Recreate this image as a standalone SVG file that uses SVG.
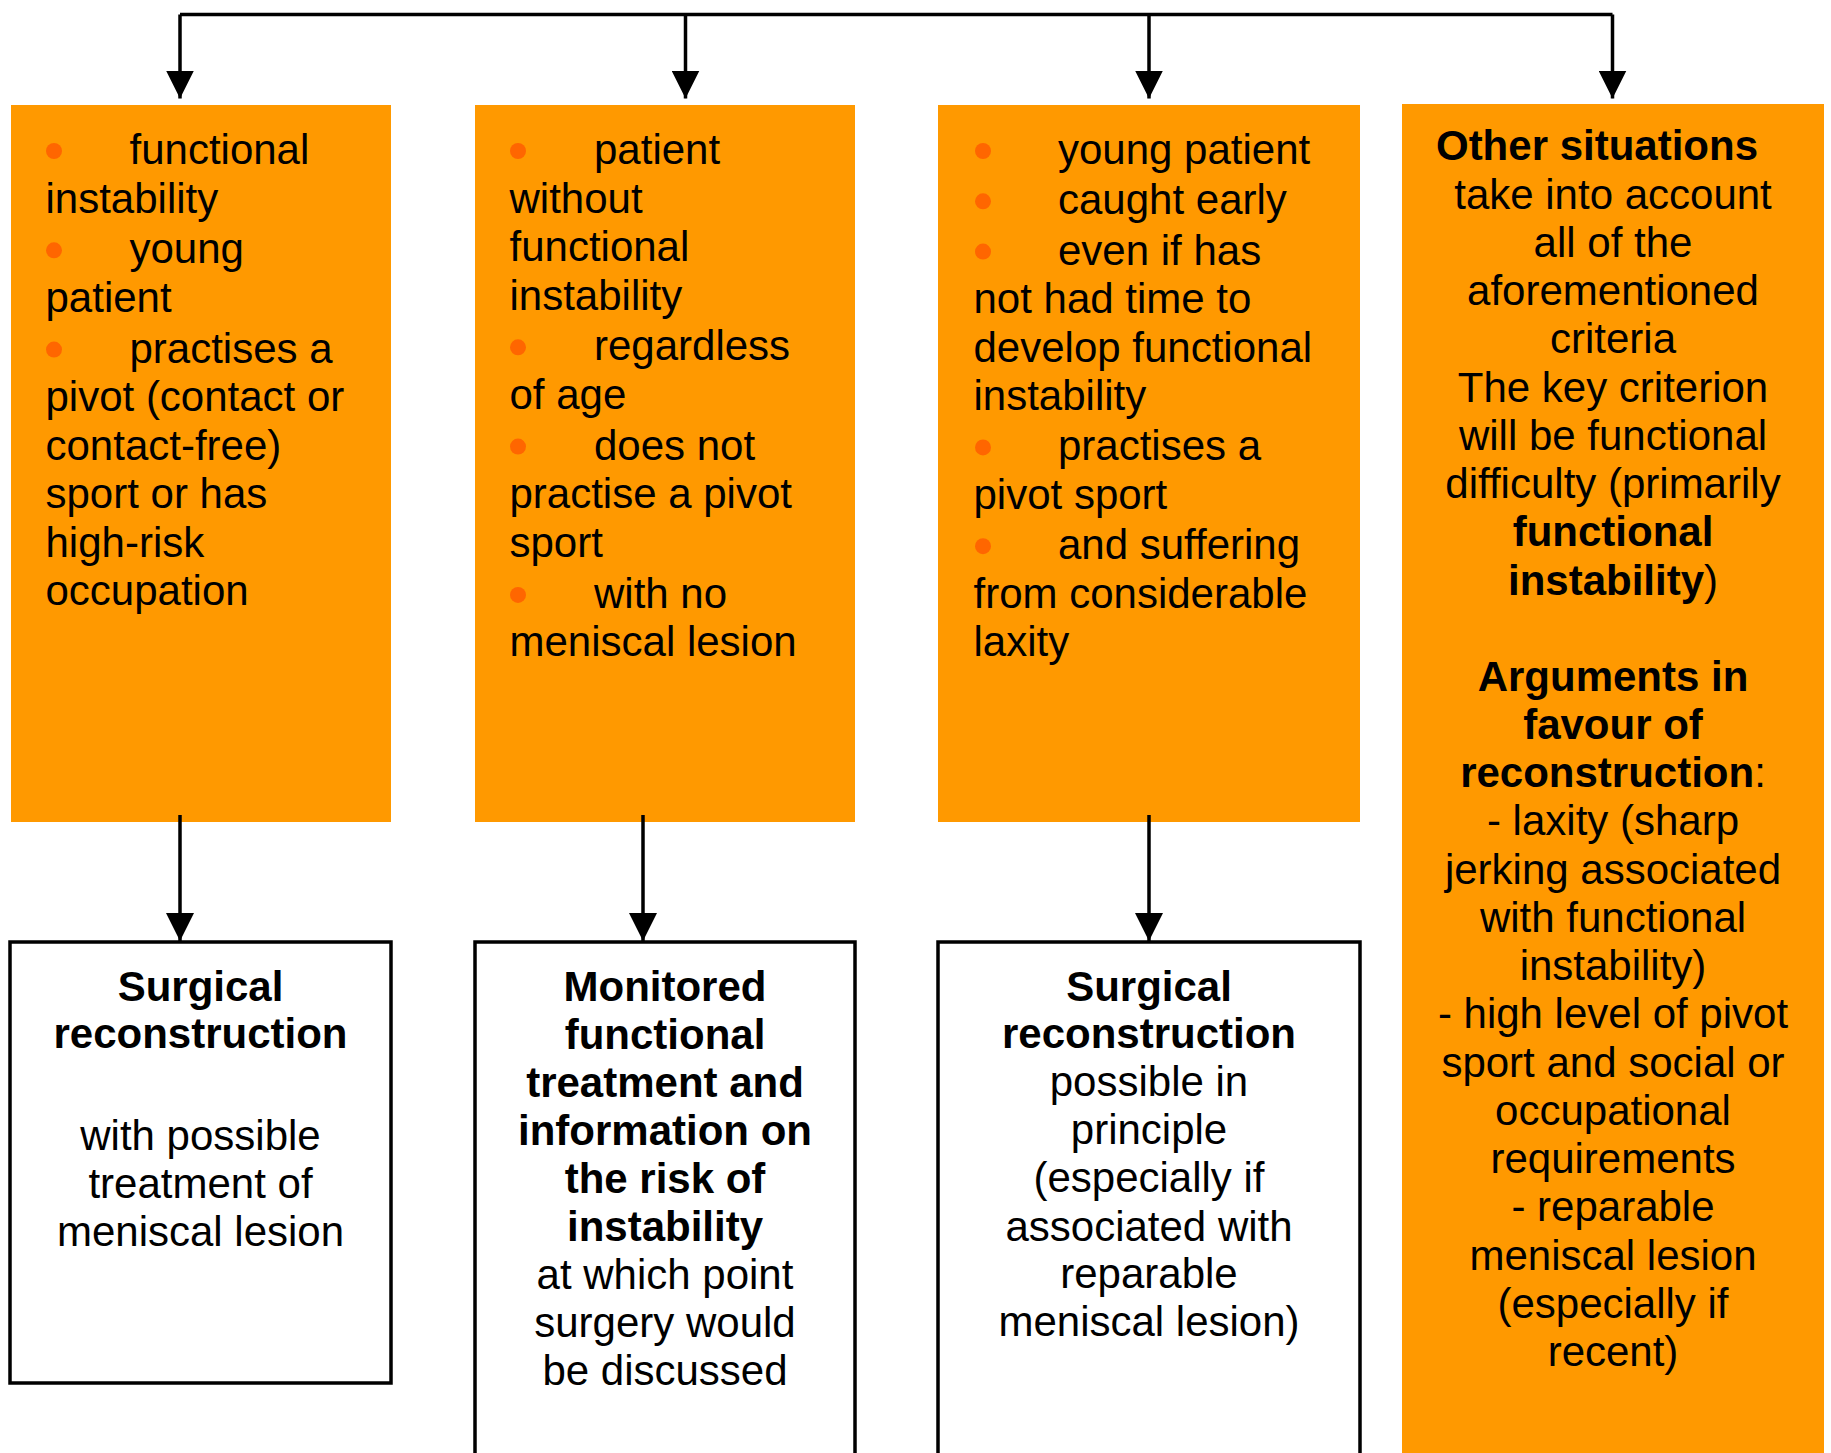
<svg xmlns="http://www.w3.org/2000/svg" width="1831" height="1453" viewBox="0 0 1831 1453">
<style>
  text { font-family: "Liberation Sans", Arial, sans-serif; font-size: 42px; fill: #000; }
  .c { text-anchor: middle; }
  .b { font-weight: bold; }
  .org { fill: #FF9900; stroke: none; }
  .wht { fill: #FFFFFF; stroke: #000; stroke-width: 3.5; }
  .dot { fill: #FF6600; }
  .con { fill: none; stroke: #000; stroke-width: 3.5; }
  .arr { marker-end: url(#ah); }
</style>
<defs>
  <marker id="ah" markerUnits="userSpaceOnUse" markerWidth="28" markerHeight="28" viewBox="0 0 27 27" refX="27" refY="13.5" orient="auto">
    <path d="M0,0 L27,13.5 L0,27 z" fill="#000"/>
  </marker>
</defs>

<g id="node-criteria-1">
  <rect class="org" x="11" y="105" width="380" height="717"/>
  <circle class="dot" cx="54" cy="151" r="8"/>
  <text x="129.5" y="164">functional</text>
  <text x="45.5" y="212.5">instability</text>
  <circle class="dot" cx="54" cy="250.3" r="8"/>
  <text x="129.5" y="263.3">young</text>
  <text x="45.5" y="311.8">patient</text>
  <circle class="dot" cx="54" cy="349.6" r="8"/>
  <text x="129.5" y="362.6">practises a</text>
  <text x="45.5" y="411.1">pivot (contact or</text>
  <text x="45.5" y="459.6">contact-free)</text>
  <text x="45.5" y="508.1">sport or has</text>
  <text x="45.5" y="556.6">high-risk</text>
  <text x="45.5" y="605.1">occupation</text>
</g>

<g id="node-criteria-2">
  <rect class="org" x="475" y="105" width="380" height="717"/>
  <circle class="dot" cx="518" cy="151" r="8"/>
  <text x="594" y="164">patient</text>
  <text x="509.5" y="212.5">without</text>
  <text x="509.5" y="261">functional</text>
  <text x="509.5" y="309.5">instability</text>
  <circle class="dot" cx="518" cy="347.3" r="8"/>
  <text x="594" y="360.3">regardless</text>
  <text x="509.5" y="408.8">of age</text>
  <circle class="dot" cx="518" cy="446.6" r="8"/>
  <text x="594" y="459.6">does not</text>
  <text x="509.5" y="508.1">practise a pivot</text>
  <text x="509.5" y="556.6">sport</text>
  <circle class="dot" cx="518" cy="594.9" r="8"/>
  <text x="594" y="607.9">with no</text>
  <text x="509.5" y="656.4">meniscal lesion</text>
</g>

<g id="node-criteria-3">
  <rect class="org" x="938" y="105" width="422" height="717"/>
  <circle class="dot" cx="983" cy="151" r="8"/>
  <text x="1058" y="164">young patient</text>
  <circle class="dot" cx="983" cy="201.3" r="8"/>
  <text x="1058" y="214.3">caught early</text>
  <circle class="dot" cx="983" cy="251.6" r="8"/>
  <text x="1058" y="264.6">even if has</text>
  <text x="973.5" y="313.1">not had time to</text>
  <text x="973.5" y="361.6">develop functional</text>
  <text x="973.5" y="410.1">instability</text>
  <circle class="dot" cx="983" cy="447.4" r="8"/>
  <text x="1058" y="460.4">practises a</text>
  <text x="973.5" y="508.9">pivot sport</text>
  <circle class="dot" cx="983" cy="546.2" r="8"/>
  <text x="1058" y="559.2">and suffering</text>
  <text x="973.5" y="607.7">from considerable</text>
  <text x="973.5" y="656.2">laxity</text>
</g>

<g id="node-other-situations">
  <rect class="org" x="1402" y="104" width="422" height="1360"/>
  <text class="c b" x="1597" y="160.3">Other situations</text>
  <text class="c" x="1613" y="208.6">take into account</text>
  <text class="c" x="1613" y="256.8">all of the</text>
  <text class="c" x="1613" y="305.1">aforementioned</text>
  <text class="c" x="1613" y="353.3">criteria</text>
  <text class="c" x="1613" y="401.6">The key criterion</text>
  <text class="c" x="1613" y="449.8">will be functional</text>
  <text class="c" x="1613" y="498.1">difficulty (primarily</text>
  <text class="c b" x="1613" y="546.3">functional</text>
  <text class="c" x="1613" y="594.6"><tspan class="b">instability</tspan>)</text>
  <text class="c b" x="1613" y="690.6">Arguments in</text>
  <text class="c b" x="1613" y="738.8">favour of</text>
  <text class="c" x="1613" y="787.1"><tspan class="b">reconstruction</tspan>:</text>
  <text class="c" x="1613" y="835.3">- laxity (sharp</text>
  <text class="c" x="1613" y="883.6">jerking associated</text>
  <text class="c" x="1613" y="931.8">with functional</text>
  <text class="c" x="1613" y="980.1">instability)</text>
  <text class="c" x="1613" y="1028.3">- high level of pivot</text>
  <text class="c" x="1613" y="1076.6">sport and social or</text>
  <text class="c" x="1613" y="1124.8">occupational</text>
  <text class="c" x="1613" y="1173.1">requirements</text>
  <text class="c" x="1613" y="1221.3">- reparable</text>
  <text class="c" x="1613" y="1269.6">meniscal lesion</text>
  <text class="c" x="1613" y="1317.8">(especially if</text>
  <text class="c" x="1613" y="1366.1">recent)</text>
</g>

<g id="node-surgical-1">
  <rect class="wht" x="10" y="942" width="381" height="441"/>
  <text class="c b" x="200.5" y="1000.5">Surgical</text>
  <text class="c b" x="200.5" y="1048">reconstruction</text>
  <text class="c" x="200.5" y="1150">with possible</text>
  <text class="c" x="200.5" y="1198">treatment of</text>
  <text class="c" x="200.5" y="1245.5">meniscal lesion</text>
</g>

<g id="node-monitored">
  <rect class="wht" x="475" y="942" width="380" height="530"/>
  <text class="c b" x="665" y="1000.5">Monitored</text>
  <text class="c b" x="665" y="1048.5">functional</text>
  <text class="c b" x="665" y="1096.5">treatment and</text>
  <text class="c b" x="665" y="1144.5">information on</text>
  <text class="c b" x="665" y="1192.5">the risk of</text>
  <text class="c b" x="665" y="1240.5">instability</text>
  <text class="c" x="665" y="1289">at which point</text>
  <text class="c" x="665" y="1337">surgery would</text>
  <text class="c" x="665" y="1384.5">be discussed</text>
</g>

<g id="node-surgical-2">
  <rect class="wht" x="938" y="942" width="422" height="530"/>
  <text class="c b" x="1149" y="1000.5">Surgical</text>
  <text class="c b" x="1149" y="1047.5">reconstruction</text>
  <text class="c" x="1149" y="1096">possible in</text>
  <text class="c" x="1149" y="1144">principle</text>
  <text class="c" x="1149" y="1192">(especially if</text>
  <text class="c" x="1149" y="1240.5">associated with</text>
  <text class="c" x="1149" y="1288">reparable</text>
  <text class="c" x="1149" y="1336">meniscal lesion)</text>
</g>

<g id="connectors">
  <path class="con" d="M180,14.5 H1612.5"/>
  <line class="con arr" x1="180" y1="14.5" x2="180" y2="98.5"/>
  <line class="con arr" x1="685.5" y1="14.5" x2="685.5" y2="98.5"/>
  <line class="con arr" x1="1149" y1="14.5" x2="1149" y2="98.5"/>
  <line class="con arr" x1="1612.5" y1="14.5" x2="1612.5" y2="98.5"/>
  <line class="con arr" x1="180" y1="815" x2="180" y2="941"/>
  <line class="con arr" x1="643" y1="815" x2="643" y2="941"/>
  <line class="con arr" x1="1149" y1="815" x2="1149" y2="941"/>
</g>
</svg>
